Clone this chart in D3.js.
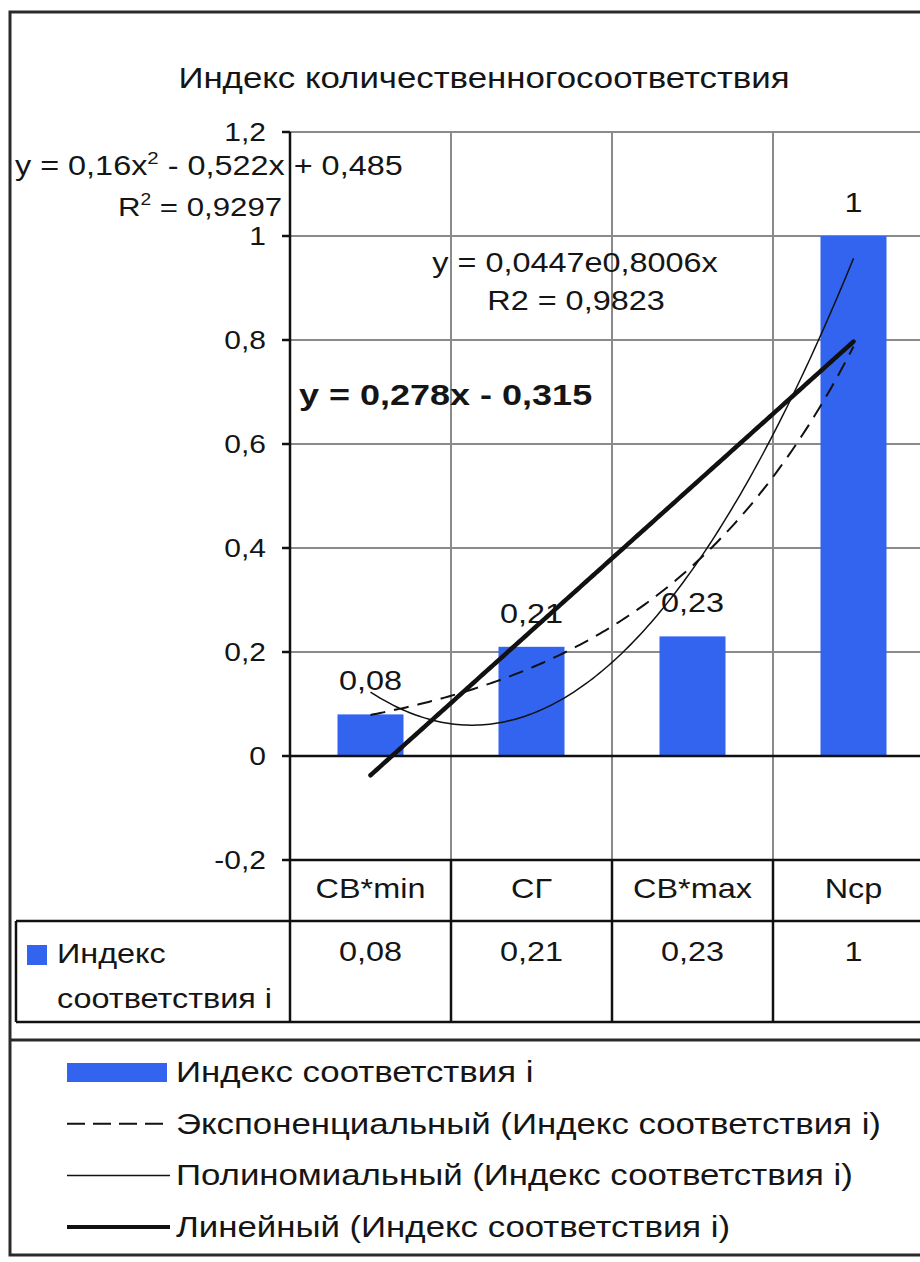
<!DOCTYPE html>
<html><head><meta charset="utf-8">
<script src="https://cdn.jsdelivr.net/npm/d3@7"></script>
<style>body{margin:0;background:#fff}svg{display:block;font-family:"Liberation Sans",Arial,sans-serif}</style>
</head><body>
<svg id="c" width="920" height="1262"></svg>
<script>
// ---- data ----
const title = "Индекс количественногосоответствия";
const categories = ["СВ*min", "СГ", "СВ*max", "Nср"];
const values = [0.08, 0.21, 0.23, 1];
const yTicks = [-0.2, 0, 0.2, 0.4, 0.6, 0.8, 1, 1.2];
const seriesName = "Индекс соответствия i";
const rowLabelLines = ["Индекс", "соответствия i"];
const legendItems = [
  "Индекс соответствия i",
  "Экспоненциальный (Индекс соответствия i)",
  "Полиномиальный (Индекс соответствия i)",
  "Линейный (Индекс соответствия i)"
];
const polyEq = ["y = 0,16x", "2", " - 0,522x + 0,485"];
const polyR2 = ["R", "2", " = 0,9297"];
const expEq = ["y = 0,0447e0,8006x", "R2 = 0,9823"];
const linEq = "y = 0,278x - 0,315";

// ---- helpers ----
const SX = 1.2;
const BLUE = "#3264F0";
const fmt = v => d3.format("~g")(v).replace(".", ",").replace("−", "-");
const svg = d3.select("#c");
function T(parent, x, y, s, o = {}) {
  return parent.append("text")
    .attr("transform", `translate(${x},${y}) scale(${SX},1)`)
    .attr("font-size", o.size || 27)
    .attr("font-weight", o.weight || "normal")
    .attr("text-anchor", o.anchor || "start")
    .attr("fill", o.fill || "#151515")
    .text(s);
}

// ---- scales ----
const PL = 290, PR = 934, PT = 132, PB = 860;
const x = d3.scaleBand().domain(categories).range([PL, PR]).paddingInner(0).paddingOuter(0);
const xn = d3.scaleLinear().domain([0.5, categories.length + 0.5]).range([PL, PR]);
const y = d3.scaleLinear().domain([-0.2, 1.2]).range([PB, PT]);

// ---- outer frame ----
svg.append("rect").attr("x", 10).attr("y", 12).attr("width", 1000).attr("height", 1243)
  .attr("fill", "none").attr("stroke", "#2a2a2a").attr("stroke-width", 3);

// ---- title ----
T(svg, 484, 88, title, {size: 29, anchor: "middle"});

// ---- gridlines ----
const grid = svg.append("g").attr("stroke", "#8a8a8a").attr("stroke-width", 2);
grid.selectAll("line.h").data(yTicks.filter(t => t > 0.001)).join("line")
  .attr("x1", PL).attr("x2", PR + 20).attr("y1", d => y(d)).attr("y2", d => y(d));
grid.selectAll("line.v").data(categories).join("line")
  .attr("x1", d => x(d) + x.bandwidth()).attr("x2", d => x(d) + x.bandwidth())
  .attr("y1", PT).attr("y2", PB);

// ---- bars ----
const bw = x.bandwidth() * 0.41;
svg.append("g").selectAll("rect").data(values).join("rect")
  .attr("x", (d, i) => x(categories[i]) + x.bandwidth() / 2 - bw / 2)
  .attr("width", bw)
  .attr("y", d => y(d)).attr("height", d => y(0) - y(d))
  .attr("fill", BLUE);

// ---- bar labels ----
const lab = svg.append("g");
values.forEach((v, i) => T(lab, x(categories[i]) + x.bandwidth() / 2, y(v) - 24, fmt(v), {anchor: "middle"}));

// ---- axes lines ----
const ax = svg.append("g").attr("stroke", "#111").attr("stroke-width", 2.5);
ax.append("line").attr("x1", PL).attr("x2", PR + 20).attr("y1", y(0)).attr("y2", y(0));
ax.append("line").attr("x1", PL).attr("x2", PL).attr("y1", PT).attr("y2", PB);
ax.selectAll("line.t").data(yTicks).join("line")
  .attr("x1", PL - 8).attr("x2", PL).attr("y1", d => y(d)).attr("y2", d => y(d));
const tl = svg.append("g");
yTicks.forEach(t => T(tl, 266, y(t) + 9, fmt(t), {size: 25, anchor: "end"}));

// ---- trendlines (least squares fits of the bar values) ----
const xs = values.map((d, i) => i + 1);
function linFit(X, Y) {
  const mx = d3.mean(X), my = d3.mean(Y);
  const b = d3.sum(X, (xv, i) => (xv - mx) * (Y[i] - my)) / d3.sum(X, xv => (xv - mx) ** 2);
  return [my - b * mx, b];
}
function quadFit(X, Y) {
  const S = k => d3.sum(X, xv => xv ** k);
  const SY = k => d3.sum(X, (xv, i) => xv ** k * Y[i]);
  const A = [[S(4), S(3), S(2), SY(2)], [S(3), S(2), S(1), SY(1)], [S(2), S(1), X.length, SY(0)]];
  for (let c = 0; c < 3; c++) {
    for (let r = c + 1; r < 3; r++) {
      const f = A[r][c] / A[c][c];
      for (let k = c; k < 4; k++) A[r][k] -= f * A[c][k];
    }
  }
  const s = [0, 0, 0];
  for (let r = 2; r >= 0; r--) {
    let acc = A[r][3];
    for (let k = r + 1; k < 3; k++) acc -= A[r][k] * s[k];
    s[r] = acc / A[r][r];
  }
  return s;
}
const [li0, li1] = linFit(xs, values);
const [qa, qb, qc] = quadFit(xs, values);
const [el0, el1] = linFit(xs, values.map(Math.log));
const sample = d3.range(1, categories.length + 0.0001, 0.02);
const line = d3.line().x(d => xn(d[0])).y(d => y(d[1]));
const tr = svg.append("g").attr("fill", "none").attr("stroke", "#111");
tr.append("path").datum(sample.map(t => [t, Math.exp(el0 + el1 * t)]))
  .attr("d", line).attr("stroke-width", 2).attr("stroke-dasharray", "15,9");
tr.append("path").datum(sample.map(t => [t, qa * t * t + qb * t + qc]))
  .attr("d", line).attr("stroke-width", 1.5);
tr.append("path").datum(sample.map(t => [t, li0 + li1 * t]))
  .attr("d", line).attr("stroke-width", 4.5).attr("stroke-linecap", "round");

// ---- equation labels ----
const eq = svg.append("g");
let t1 = T(eq, 15, 175, polyEq[0]);
t1.append("tspan").attr("font-size", 17).attr("dy", -11).text(polyEq[1]);
t1.append("tspan").attr("dy", 11).text(polyEq[2]);
let t2 = T(eq, 118, 216, polyR2[0], {size: 26});
t2.append("tspan").attr("font-size", 16).attr("dy", -11).text(polyR2[1]);
t2.append("tspan").attr("dy", 11).text(polyR2[2]);
T(eq, 575, 272, expEq[0], {anchor: "middle"});
T(eq, 576, 310, expEq[1], {anchor: "middle"});
T(eq, 299, 405, linEq, {size: 30, weight: "bold"});

// ---- data table ----
const tb = svg.append("g");
const rowTop = 921, rowBot = 1022;
const tlines = tb.append("g").attr("stroke", "#111").attr("stroke-width", 2.5);
tlines.append("line").attr("x1", PL).attr("x2", PR + 20).attr("y1", PB).attr("y2", PB);
tlines.append("line").attr("x1", 16).attr("x2", PR + 20).attr("y1", rowTop).attr("y2", rowTop);
tlines.append("line").attr("x1", 16).attr("x2", PR + 20).attr("y1", rowBot).attr("y2", rowBot);
tlines.append("line").attr("x1", 16).attr("x2", 16).attr("y1", rowTop).attr("y2", rowBot);
tlines.selectAll("line.cv").data([PL, ...categories.map(c => x(c) + x.bandwidth())]).join("line")
  .attr("x1", d => d).attr("x2", d => d).attr("y1", PB).attr("y2", rowBot);
categories.forEach((c, i) => {
  T(tb, x(c) + x.bandwidth() / 2, 898, c, {anchor: "middle"});
  T(tb, x(c) + x.bandwidth() / 2, 961, fmt(values[i]), {anchor: "middle"});
});
tb.append("rect").attr("x", 27).attr("y", 945).attr("width", 20).attr("height", 20).attr("fill", BLUE);
T(tb, 57, 963, rowLabelLines[0]);
T(tb, 57, 1008, rowLabelLines[1]);

// ---- legend ----
const lg = svg.append("g");
lg.append("line").attr("x1", 10).attr("x2", 1000).attr("y1", 1040).attr("y2", 1040)
  .attr("stroke", "#2a2a2a").attr("stroke-width", 3);
const ly = i => 1082 + i * 51.7;
lg.append("rect").attr("x", 67).attr("y", ly(0) - 19).attr("width", 100).attr("height", 19).attr("fill", BLUE);
const lstyles = [null, {w: 2, dash: "18,8"}, {w: 1.5, dash: null}, {w: 4, dash: null}];
lstyles.forEach((s, i) => {
  if (!s) return;
  lg.append("line").attr("x1", 67).attr("x2", 170).attr("y1", ly(i) - 10).attr("y2", ly(i) - 10)
    .attr("stroke", "#111").attr("stroke-width", s.w).attr("stroke-dasharray", s.dash);
});
legendItems.forEach((s, i) => T(lg, 176, ly(i), s, {size: 29}));
</script>
</body></html>
